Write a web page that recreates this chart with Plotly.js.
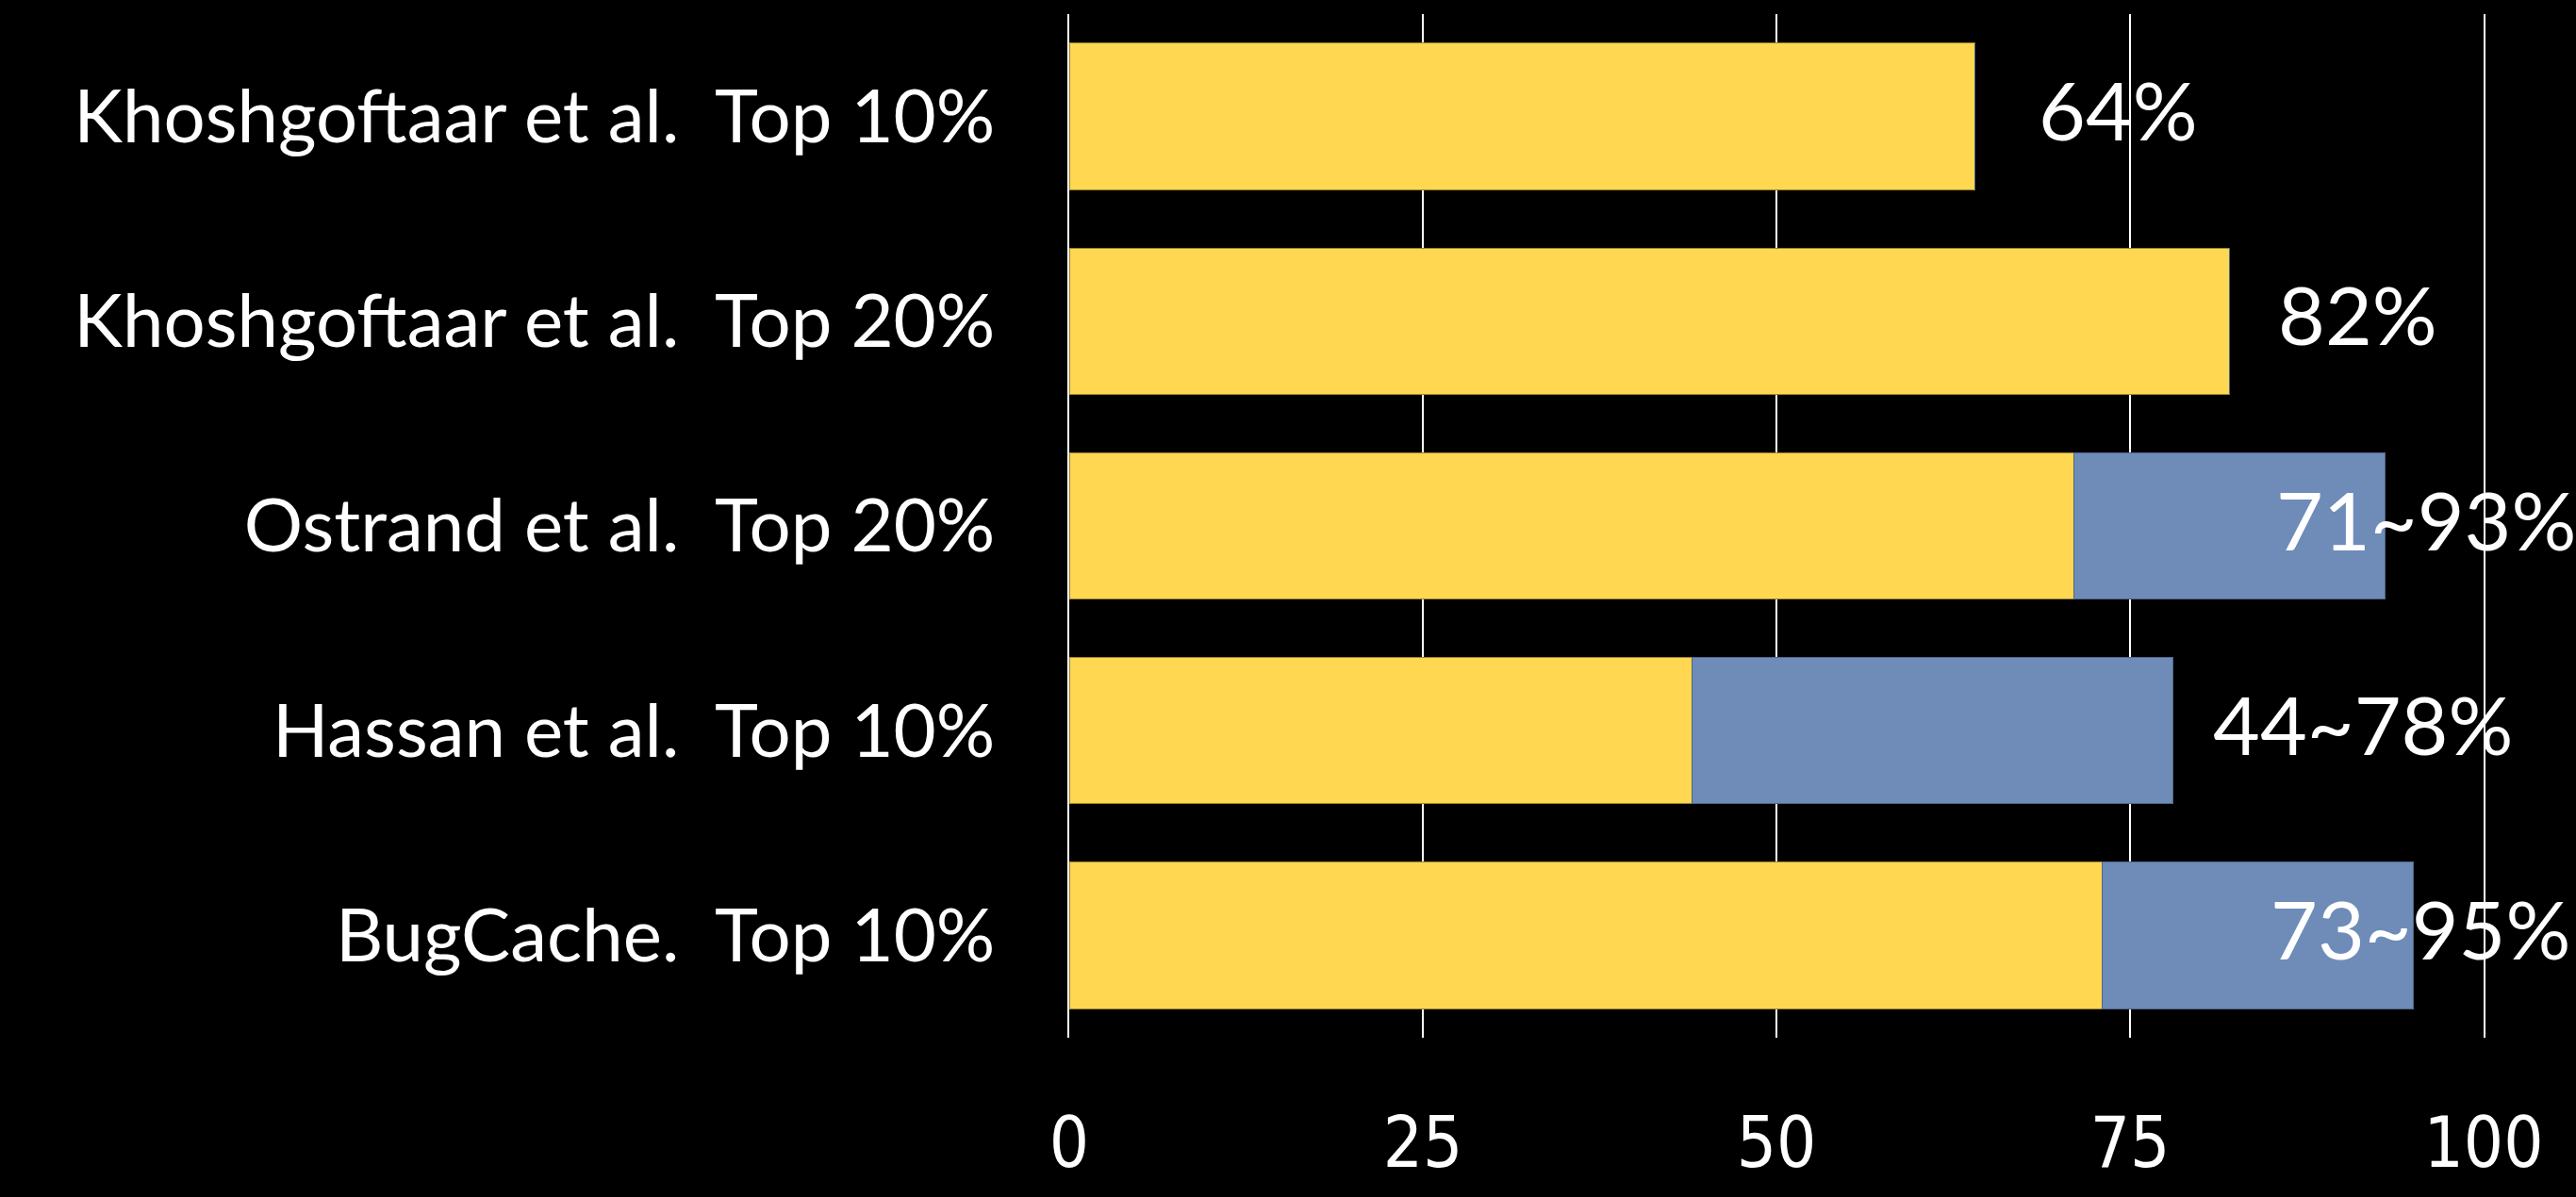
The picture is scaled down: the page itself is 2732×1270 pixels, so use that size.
<!DOCTYPE html>
<html>
<head>
<meta charset="utf-8">
<script src="https://cdn.plot.ly/plotly-3.0.1.min.js"></script>
<style>
  html, body { margin: 0; padding: 0; background: #000; }
  #chart { width: 2732px; height: 1270px; }
</style>
</head>
<body>
<div id="chart"></div>
<script>
// ---- data ----
const categories = [
  "Khoshgoftaar et al.  Top 10%",
  "Khoshgoftaar et al.  Top 20%",
  "Ostrand et al.  Top 20%",
  "Hassan et al.  Top 10%",
  "BugCache.  Top 10%"
];
const lowValues  = [64, 82, 71, 44, 73];
const highValues = [64, 82, 93, 78, 95];
const valueLabels = ["64%", "82%", "71~93%", "44~78%", "73~95%"];
const tickValues = [0, 25, 50, 75, 100];
const tickLabels = ["0", "25", "50", "75", "100"];
// label anchor positions (x axis units)
const labelPos = [68.4, 85.3, 85.2, 80.7, 84.8];

const rangeValues = highValues.map((h, i) => h - lowValues[i]);

const mainFont = "Comic Sans MS, Lato, Open Sans, sans-serif";

const traces = [
  {
    type: "bar", orientation: "h",
    y: categories, x: lowValues,
    marker: { color: "#FFD750", line: { color: "#9a8230", width: 1 } },
    hoverinfo: "skip"
  },
  {
    type: "bar", orientation: "h",
    y: categories, x: rangeValues,
    marker: { color: "#6F8CB8", line: { color: "#4e6688", width: 1 } },
    hoverinfo: "skip"
  }
];

const annotations = categories.map((c, i) => ({
  x: labelPos[i], y: c, xref: "x", yref: "y",
  text: valueLabels[i], showarrow: false,
  xanchor: "left", yanchor: "middle", yshift: 8,
  font: { family: mainFont, size: 86, color: "#ffffff" }
}));

const layout = {
  width: 2732, height: 1270,
  paper_bgcolor: "#000000", plot_bgcolor: "#000000",
  barmode: "stack", bargap: 0.285,
  showlegend: false,
  margin: { l: 1134, r: 98, t: 15, b: 169, pad: 0 },
  xaxis: {
    range: [0, 100],
    tickvals: tickValues, ticktext: tickLabels,
    showgrid: true, gridcolor: "#ffffff", gridwidth: 2,
    zeroline: false, showline: false, ticks: "",
    ticklabelstandoff: 62,
    tickfont: { family: "DejaVu Sans Condensed, Liberation Sans Narrow, sans-serif", size: 74, color: "#ffffff" },
    fixedrange: true
  },
  yaxis: {
    type: "category",
    autorange: "reversed",
    showgrid: false, zeroline: false,
    showline: true, mirror: true, linecolor: "#ffffff", linewidth: 2,
    ticks: "",
    ticklabelstandoff: 61,
    tickfont: { family: mainFont, size: 78, color: "#ffffff" },
    fixedrange: true
  },
  annotations: annotations
};

Plotly.newPlot("chart", traces, layout, { staticPlot: true, displayModeBar: false });
</script>
</body>
</html>
